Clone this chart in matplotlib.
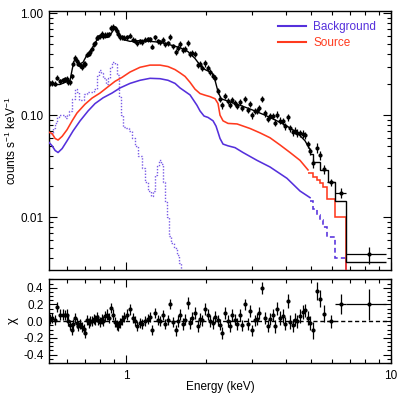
import numpy as np
import matplotlib
matplotlib.use("Agg")
import matplotlib.pyplot as plt
from matplotlib.ticker import FixedLocator, LogLocator, MultipleLocator, NullFormatter, FixedFormatter

plt.rcParams['font.family'] = ['Liberation Sans', 'DejaVu Sans']
plt.rcParams['axes.unicode_minus'] = False
plt.rcParams['mathtext.fontset'] = 'custom'
plt.rcParams['mathtext.rm'] = 'Liberation Sans'
plt.rcParams['mathtext.it'] = 'Liberation Sans:italic'

# ---------------- data points (energy keV, counts s^-1 keV^-1, residual) ----------------
energy = [0.517, 0.526, 0.540, 0.549, 0.563, 0.578, 0.589, 0.599, 0.604, 0.615,
          0.626, 0.631, 0.642, 0.653, 0.659, 0.671, 0.682, 0.694, 0.700, 0.712,
          0.725, 0.731, 0.744, 0.757, 0.764, 0.777, 0.784, 0.798, 0.812, 0.819,
          0.833, 0.848, 0.863, 0.878, 0.893, 0.909, 0.925, 0.933, 0.949, 0.966,
          0.983, 1.009, 1.035, 1.063, 1.081, 1.100, 1.129, 1.149, 1.180, 1.211,
          1.232, 1.254, 1.287, 1.321, 1.344, 1.379, 1.403, 1.440, 1.466, 1.504,
          1.544, 1.571, 1.599, 1.641, 1.670, 1.714, 1.744, 1.775, 1.821, 1.870,
          1.902, 1.936, 1.987, 2.039, 2.075, 2.130, 2.167, 2.224, 2.263, 2.303,
          2.364, 2.426, 2.468, 2.512, 2.578, 2.624, 2.693, 2.740, 2.812, 2.886,
          2.937, 2.989, 3.067, 3.121, 3.176, 3.260, 3.346, 3.434, 3.494, 3.586,
          3.650, 3.714, 3.812, 3.913, 3.981, 4.086, 4.158, 4.268, 4.342, 4.418,
          4.535, 4.654, 4.737, 4.862, 4.947, 5.078, 5.258, 5.397, 5.588, 5.937,
          6.45, 8.26]
counts = [0.206, 0.208, 0.204, 0.234, 0.216, 0.221, 0.225, 0.227, 0.210, 0.211,
          0.240, 0.320, 0.364, 0.343, 0.320, 0.310, 0.298, 0.319, 0.318, 0.394,
          0.402, 0.420, 0.450, 0.494, 0.510, 0.578, 0.581, 0.594, 0.628, 0.600,
          0.615, 0.616, 0.624, 0.720, 0.734, 0.713, 0.672, 0.620, 0.588, 0.581,
          0.578, 0.583, 0.604, 0.551, 0.540, 0.508, 0.529, 0.524, 0.550, 0.556,
          0.557, 0.472, 0.583, 0.530, 0.520, 0.546, 0.495, 0.510, 0.588, 0.475,
          0.418, 0.460, 0.497, 0.437, 0.449, 0.512, 0.402, 0.406, 0.396, 0.310,
          0.319, 0.293, 0.322, 0.292, 0.265, 0.245, 0.231, 0.172, 0.144, 0.125,
          0.154, 0.138, 0.127, 0.142, 0.133, 0.124, 0.134, 0.117, 0.144, 0.113,
          0.129, 0.0997, 0.111, 0.111, 0.117, 0.144, 0.104, 0.0912, 0.0979, 0.0984,
          0.0846, 0.101, 0.0884, 0.0869, 0.0776, 0.0955, 0.0743, 0.0684, 0.0704, 0.0670,
          0.0668, 0.0655, 0.0633, 0.0520, 0.0441, 0.0338, 0.0476, 0.0406, 0.0294, 0.0220,
          0.0174, 0.0043]
resid = [0.03, 0.04, 0.02, 0.17, 0.08, 0.08, 0.07, 0.08, 0.00, -0.04,
         -0.11, -0.03, 0.04, -0.02, -0.06, -0.03, -0.07, -0.09, -0.14, 0.01,
         -0.02, 0.00, 0.00, 0.03, 0.02, 0.05, 0.02, -0.01, 0.03, 0.00,
         0.06, 0.08, 0.04, 0.16, 0.08, -0.01, -0.04, -0.06, -0.02, 0.02,
         0.05, 0.08, 0.14, 0.04, 0.00, -0.06, -0.02, -0.03, 0.00, 0.03,
         0.05, -0.11, 0.10, 0.02, 0.00, 0.07, -0.03, 0.02, 0.20, -0.01,
         -0.11, 0.00, 0.08, -0.03, 0.02, 0.22, -0.02, 0.04, 0.10, -0.06,
         0.03, 0.01, 0.15, 0.08, 0.00, -0.02, 0.05, 0.01, -0.04, -0.14,
         0.10, 0.00, -0.06, 0.07, 0.02, -0.03, 0.07, -0.05, 0.20, -0.03,
         0.12, -0.11, 0.01, 0.03, 0.10, 0.40, 0.04, -0.06, 0.03, 0.07,
         -0.06, 0.15, 0.04, 0.06, -0.03, 0.24, -0.01, -0.05, 0.02, 0.00,
         0.06, 0.11, 0.13, 0.04, -0.02, -0.11, 0.36, 0.27, 0.09, 0.00,
         0.21, 0.20]
resid_err = [0.06] * 60 + [0.07] * 40 + [0.08] * 15 + [0.10, 0.11, 0.10, 0.10, 0.08, 0.12, 0.19]
# wide bins of the last three points (keV)
wide_lo = [5.72, 6.13, 6.75]
wide_hi = [6.13, 6.75, 9.6]

# ---------------- model curves ----------------
black_E = [0.512, 0.540, 0.563, 0.589, 0.615, 0.626, 0.636, 0.653, 0.671, 0.688,
           0.712, 0.744, 0.777, 0.805, 0.833, 0.855, 0.878, 0.901, 0.925, 0.949,
           0.983, 1.035, 1.129, 1.232, 1.344, 1.466, 1.599, 1.714, 1.821, 1.902,
           1.987, 2.111, 2.167, 2.224, 2.283, 2.468, 2.693, 2.937, 3.346, 3.812,
           4.158, 4.535, 4.737, 4.947]
black_v = [0.20, 0.20, 0.20, 0.21, 0.22, 0.28, 0.34, 0.35, 0.32, 0.33,
           0.39, 0.45, 0.55, 0.61, 0.58, 0.58, 0.63, 0.70, 0.70, 0.60,
           0.55, 0.53, 0.54, 0.53, 0.52, 0.49, 0.46, 0.42, 0.36, 0.31,
           0.28, 0.26, 0.22, 0.17, 0.145, 0.135, 0.125, 0.115, 0.10, 0.085,
           0.075, 0.063, 0.056, 0.046]
black_hi_edges = [4.947, 5.078, 5.397, 5.78, 6.13, 6.75, 9.6]
black_hi_v = [0.042, 0.035, 0.029, 0.022, 0.0144, 0.0036]

red_E = [0.512, 0.526, 0.540, 0.554, 0.574, 0.599, 0.626, 0.653, 0.700, 0.744,
         0.798, 0.855, 0.909, 0.966, 1.035, 1.129, 1.232, 1.344, 1.440, 1.531,
         1.599, 1.670, 1.744, 1.821, 1.902, 1.987, 2.075, 2.167, 2.224, 2.263,
         2.323, 2.426, 2.624, 2.937, 3.204, 3.494, 3.812, 4.158, 4.535, 4.862]
red_v = [0.068, 0.066, 0.059, 0.057, 0.062, 0.072, 0.088, 0.105, 0.128, 0.147,
         0.165, 0.19, 0.215, 0.235, 0.265, 0.295, 0.31, 0.31, 0.30, 0.28,
         0.26, 0.24, 0.21, 0.18, 0.163, 0.157, 0.152, 0.145, 0.13, 0.10,
         0.088, 0.083, 0.082, 0.074, 0.067, 0.060, 0.051, 0.043, 0.036, 0.029]
red_hi_edges = [4.862, 5.078, 5.258, 5.397, 5.54, 5.72, 6.13, 6.75]
red_hi_v = [0.027, 0.0246, 0.023, 0.0215, 0.0197, 0.015, 0.010]

blue_E = [0.512, 0.526, 0.540, 0.554, 0.574, 0.599, 0.631, 0.671, 0.719, 0.764,
          0.819, 0.886, 0.949, 1.035, 1.129, 1.232, 1.344, 1.440, 1.531, 1.599,
          1.744, 1.852, 1.902, 1.970, 2.039, 2.130, 2.186, 2.224, 2.263, 2.323,
          2.426, 2.578, 2.763, 3.121, 3.494, 4.048, 4.535, 4.947]
blue_v = [0.054, 0.050, 0.045, 0.043, 0.047, 0.056, 0.070, 0.088, 0.110, 0.130,
          0.148, 0.165, 0.185, 0.205, 0.220, 0.230, 0.228, 0.220, 0.205, 0.185,
          0.158, 0.125, 0.110, 0.098, 0.095, 0.088, 0.078, 0.068, 0.059, 0.052,
          0.050, 0.048, 0.043, 0.036, 0.031, 0.024, 0.018, 0.0155]
blue_hi_edges = [4.947, 5.078, 5.258, 5.397, 5.54, 5.72, 6.13, 6.75]
blue_hi_v = [0.0145, 0.012, 0.0105, 0.0094, 0.008, 0.0064, 0.004]

dot_E = [0.521, 0.535, 0.544, 0.554, 0.563, 0.578, 0.594, 0.604, 0.615, 0.631,
         0.648, 0.659, 0.671, 0.682, 0.700, 0.719, 0.744, 0.764, 0.784, 0.798,
         0.812, 0.826, 0.848, 0.863, 0.878, 0.893, 0.917, 0.933, 0.949, 0.966,
         0.983, 1.009, 1.035, 1.063, 1.091, 1.129, 1.159, 1.190, 1.221, 1.254,
         1.276, 1.298, 1.321, 1.344, 1.367, 1.391, 1.415, 1.440, 1.466, 1.491,
         1.544, 1.571, 1.599, 1.627]
dot_v = [0.065, 0.075, 0.083, 0.095, 0.10, 0.10, 0.094, 0.10, 0.11, 0.145,
         0.18, 0.17, 0.14, 0.14, 0.16, 0.17, 0.17, 0.18, 0.24, 0.28,
         0.26, 0.23, 0.20, 0.23, 0.30, 0.33, 0.32, 0.25, 0.15, 0.10,
         0.076, 0.074, 0.07, 0.06, 0.05, 0.04, 0.03, 0.022, 0.018, 0.016,
         0.018, 0.026, 0.032, 0.036, 0.033, 0.022, 0.014, 0.010, 0.0065, 0.0055,
         0.005, 0.0042, 0.0035, 0.0029]

top_yticks = [0.01, 0.1, 1.0]
top_yticklabels = ["0.01", "0.10", "1.00"]
res_yticks = [-0.4, -0.2, 0.0, 0.2, 0.4]
res_yticklabels = ["-0.4", "-0.2", "0.0", "0.2", "0.4"]
xticks = [1, 10]
xticklabels = ["1", "10"]

BLUE = '#5530dc'
RED = '#ff3a1e'
DOT = '#7a5ce6'

# ---------------- figure ----------------
fig = plt.figure(figsize=(3.99, 3.99), dpi=100)
ax1 = fig.add_axes([0.1228, 0.3233, 0.8572, 0.6491])
ax2 = fig.add_axes([0.1228, 0.0902, 0.8572, 0.2106], sharex=ax1)

E = np.array(energy)
C = np.array(counts)
R = np.array(resid)
RE = np.array(resid_err)
n = len(E)
xlo = np.zeros(n)
xhi = np.zeros(n)
xlo[-3:] = E[-3:] - np.array(wide_lo)
xhi[-3:] = np.array(wide_hi) - E[-3:]
ymin_top = 0.00302
LW = 1.15

# models
ax1.plot(dot_E, dot_v, color=DOT, lw=1.0, ls=(0, (1, 1.2)), drawstyle='steps-mid', zorder=2)
ax1.plot(blue_E, blue_v, color=BLUE, lw=LW, zorder=3, label='Background')
ax1.stairs(blue_hi_v, blue_hi_edges, color=BLUE, lw=LW, ls=(0, (3, 2)), baseline=None, zorder=3)
ax1.vlines(blue_hi_edges[-1], ymin_top, blue_hi_v[-1], color=BLUE, lw=LW, zorder=3)
ax1.plot(red_E, red_v, color=RED, lw=LW, zorder=3, label='Source')
ax1.stairs(red_hi_v, red_hi_edges, color=RED, lw=LW, baseline=None, zorder=3)
ax1.vlines(red_hi_edges[-1], ymin_top, red_hi_v[-1], color=RED, lw=LW, zorder=3)
ax1.plot(black_E, black_v, color='k', lw=1.0, zorder=4)
ax1.stairs(black_hi_v, black_hi_edges, color='k', lw=1.0, baseline=None, zorder=4)

# data
ax1.errorbar(E, C, yerr=C * RE, xerr=[xlo, xhi], fmt='o', ms=2.0, color='k',
             ecolor='k', elinewidth=0.9, capsize=0, zorder=5)

ax1.set_xscale('log')
ax1.set_yscale('log')
ax1.set_xlim(0.512, 10)
ax1.set_ylim(ymin_top, 1.053)

leg = ax1.legend(loc='upper left', bbox_to_anchor=(0.655, 0.98), frameon=False,
                 fontsize=8.5, handlelength=2.4, handletextpad=0.6,
                 labelspacing=0.35, borderaxespad=0, labelcolor='linecolor')
for line in leg.get_lines():
    line.set_linewidth(1.5)

ax1.yaxis.set_major_locator(FixedLocator(top_yticks))
ax1.yaxis.set_major_formatter(FixedFormatter(top_yticklabels))
ax1.yaxis.set_minor_locator(LogLocator(base=10, subs=np.arange(2, 10)))
ax1.yaxis.set_minor_formatter(NullFormatter())
ax1.set_ylabel('counts s$^{-1}$ keV$^{-1}$', fontsize=8.5)
ax1.yaxis.set_label_coords(-0.088, 0.5)
ax1.tick_params(labelbottom=False)

# residuals
ax2.axhline(0, color='k', lw=1.0, ls=(0, (3, 2)), zorder=1)
ax2.errorbar(E, R, yerr=RE, xerr=[xlo, xhi], fmt='o', ms=2.0, color='k',
             ecolor='k', elinewidth=0.9, capsize=0, zorder=5)
ax2.set_ylim(-0.5, 0.505)
ax2.yaxis.set_major_locator(FixedLocator(res_yticks))
ax2.yaxis.set_major_formatter(FixedFormatter(res_yticklabels))
ax2.yaxis.set_minor_locator(MultipleLocator(0.05))
ax2.set_ylabel('χ', fontsize=9.5)
ax2.yaxis.set_label_coords(-0.088, 0.5)

ax2.xaxis.set_major_locator(FixedLocator(xticks))
ax2.xaxis.set_major_formatter(FixedFormatter(xticklabels))
ax2.xaxis.set_minor_locator(LogLocator(base=10, subs=np.arange(2, 10)))
ax2.xaxis.set_minor_formatter(NullFormatter())
ax2.set_xlabel('Energy (keV)', fontsize=8.5)
ax2.xaxis.set_label_coords(0.5, -0.21)

for ax in (ax1, ax2):
    ax.tick_params(which='both', direction='in', top=True, right=True, labelsize=8.5, width=0.8)
    ax.tick_params(which='major', length=6)
    ax.tick_params(which='minor', length=3)
    ax.tick_params(axis='y', pad=4)
    ax.tick_params(axis='x', pad=5)
    for s in ax.spines.values():
        s.set_linewidth(1.0)

fig.savefig('out.png', dpi=100)
